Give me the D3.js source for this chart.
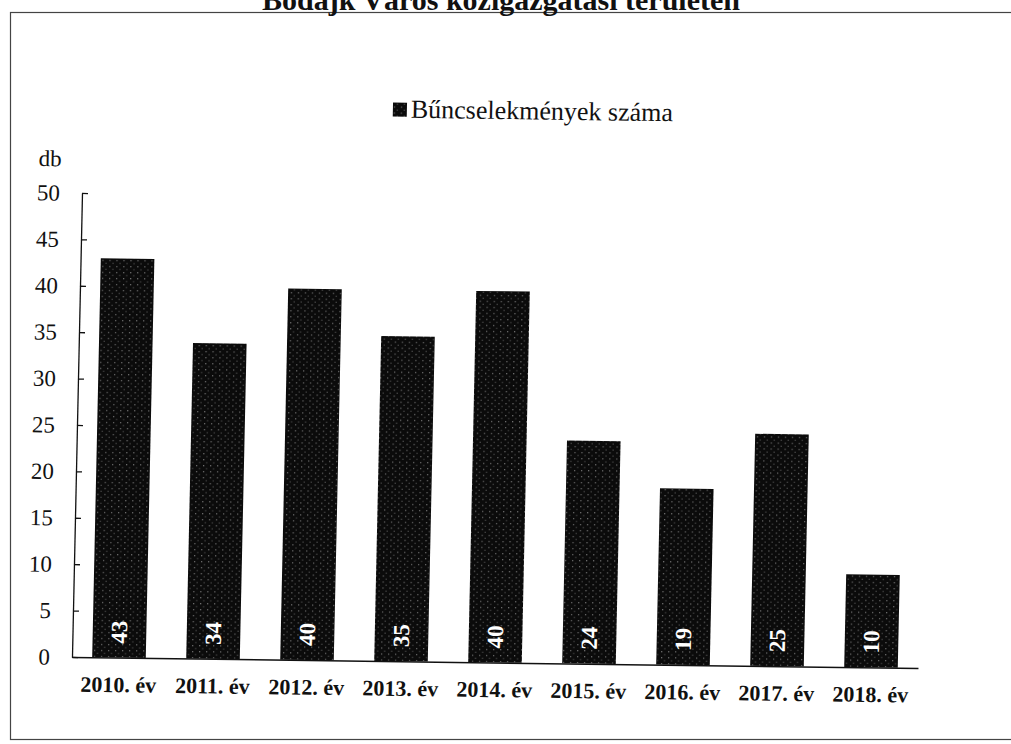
<!DOCTYPE html>
<html>
<head>
<meta charset="utf-8">
<script src="https://cdn.jsdelivr.net/npm/d3@7"></script>
<style>
  body { margin: 0; background: #fff; }
  svg { display: block; }
</style>
</head>
<body>
<svg id="chart"></svg>
<script>
const years = ["2010. év", "2011. év", "2012. év", "2013. év", "2014. év", "2015. év", "2016. év", "2017. év", "2018. év"];
const counts = [43, 34, 40, 35, 40, 24, 19, 25, 10];
const yTicks = [0, 5, 10, 15, 20, 25, 30, 35, 40, 45, 50];
const titleText = "Bodajk Város közigazgatási területén";
const legendText = "Bűncselekmények száma";
const unitText = "db";

const width = 1011;
const height = 744;
const serif = "'Liberation Serif', 'Times New Roman', serif";

const svg = d3.select("#chart")
    .attr("width", width)
    .attr("height", height);

// speckled black fill like the scanned bars
const pat = svg.append("defs").append("pattern")
   .attr("id", "speck")
   .attr("patternUnits", "userSpaceOnUse")
   .attr("width", 7)
   .attr("height", 6);
pat.append("rect").attr("width", 7).attr("height", 6).attr("fill", "#0b0b0b");
pat.append("rect").attr("x", 1).attr("y", 1).attr("width", 1).attr("height", 1).attr("fill", "#9a9a9a");
pat.append("rect").attr("x", 4).attr("y", 4).attr("width", 1).attr("height", 1).attr("fill", "#6a6a6a");

// page frame of the scanned document
svg.append("rect")
   .attr("x", 10.5)
   .attr("y", 12.5)
   .attr("width", 1010)
   .attr("height", 727)
   .attr("fill", "none")
   .attr("stroke", "#444")
   .attr("stroke-width", 1.2);

// title, cut at the top edge of the scan
svg.append("text")
   .attr("x", 501)
   .attr("y", 10)
   .attr("text-anchor", "middle")
   .attr("font-family", serif)
   .attr("font-weight", "bold")
   .attr("font-size", 30)
   .attr("fill", "#111")
   .text(titleText);

// slight scan skew
const cx = 495, cy = 430;
const g = svg.append("g")
   .attr("transform", `translate(${cx},${cy}) matrix(1,0.013,-0.0216,1,0,0) translate(${-cx},${-cy})`);

const plotLeft = 77, plotRight = 923, plotTop = 198.4, plotBottom = 662.4;

const xScale = d3.scaleBand()
    .domain(years)
    .range([plotLeft, plotRight])
    .paddingInner(0.43)
    .paddingOuter(0.215);

const yScale = d3.scaleLinear()
    .domain([0, 50])
    .range([plotBottom, plotTop]);

// bars
g.selectAll(".bar")
 .data(counts)
 .enter()
 .append("rect")
 .attr("class", "bar")
 .attr("x", (d, i) => xScale(years[i]))
 .attr("y", d => yScale(d))
 .attr("width", xScale.bandwidth())
 .attr("height", d => yScale(0) - yScale(d))
 .attr("fill", "url(#speck)");

// value labels, rotated, inside base
g.selectAll(".val")
 .data(counts)
 .enter()
 .append("text")
 .attr("class", "val")
 .attr("transform", (d, i) => `translate(${xScale(years[i]) + xScale.bandwidth() / 2},${yScale(0) - 14}) rotate(-90)`)
 .attr("dominant-baseline", "central")
 .attr("text-anchor", "start")
 .attr("font-family", serif)
 .attr("font-weight", "bold")
 .attr("font-size", 23)
 .attr("fill", "#fff")
 .text(d => d);

// y axis
const yAxis = d3.axisLeft(yScale)
    .tickValues(yTicks)
    .tickSizeInner(-6)
    .tickSizeOuter(0)
    .tickPadding(22);

const yG = g.append("g")
   .attr("transform", `translate(${plotLeft},0)`)
   .call(yAxis);
yG.selectAll("line, path").attr("stroke", "#111").attr("stroke-width", 1.3);
yG.selectAll("text")
  .attr("font-family", serif)
  .attr("font-size", 23)
  .attr("fill", "#111");

// x axis
const xAxis = d3.axisBottom(xScale)
    .tickSize(0)
    .tickPadding(19);

const xG = g.append("g")
   .attr("transform", `translate(0,${plotBottom})`)
   .call(xAxis);
xG.select("path").attr("stroke", "#111").attr("stroke-width", 1.5);
xG.selectAll("text")
  .attr("font-family", serif)
  .attr("font-weight", "bold")
  .attr("font-size", 22)
  .attr("fill", "#111");

// unit label
g.append("text")
 .attr("x", 33)
 .attr("y", 172)
 .attr("font-family", serif)
 .attr("font-size", 23)
 .attr("fill", "#111")
 .text(unitText);

// legend
const legend = g.append("g").attr("transform", "translate(386,119)");
legend.append("rect")
  .attr("x", 0)
  .attr("y", -15)
  .attr("width", 14)
  .attr("height", 14)
  .attr("fill", "url(#speck)");
legend.append("text")
  .attr("x", 18)
  .attr("y", 0)
  .attr("font-family", serif)
  .attr("font-size", 26)
  .attr("fill", "#111")
  .text(legendText);
</script>
</body>
</html>
